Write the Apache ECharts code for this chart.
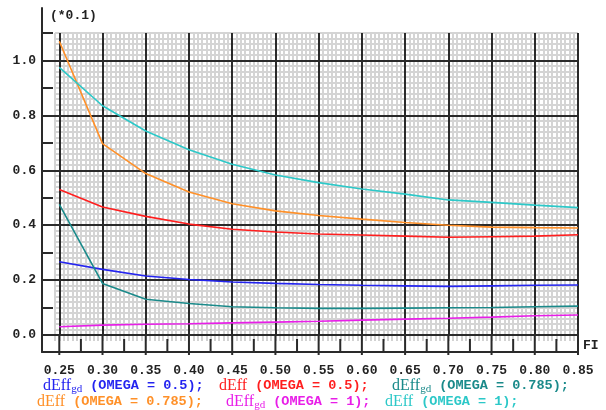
<!DOCTYPE html>
<html><head><meta charset="utf-8">
<script src="https://cdn.jsdelivr.net/npm/echarts@6/dist/echarts.min.js"></script>
<style>html,body{margin:0;padding:0;background:#fff}#c{width:606px;height:410px}</style>
</head><body><div id="c"></div>
<script>
// ---- data ----
const fi = [0.25, 0.30, 0.35, 0.40, 0.45, 0.50, 0.55, 0.60, 0.65, 0.70, 0.75, 0.80, 0.85];
const gdOmega05   = [0.267, 0.239, 0.215, 0.202, 0.193, 0.188, 0.184, 0.181, 0.179, 0.177, 0.179, 0.181, 0.182];
const effOmega05  = [0.530, 0.466, 0.432, 0.404, 0.385, 0.375, 0.368, 0.364, 0.360, 0.356, 0.358, 0.360, 0.365];
const gdOmega0785 = [0.476, 0.188, 0.130, 0.115, 0.103, 0.099, 0.097, 0.097, 0.098, 0.099, 0.100, 0.103, 0.105];
const effOmega0785= [1.070, 0.697, 0.588, 0.521, 0.478, 0.452, 0.435, 0.422, 0.410, 0.400, 0.393, 0.391, 0.390];
const gdOmega1    = [0.030, 0.036, 0.039, 0.041, 0.044, 0.047, 0.050, 0.054, 0.058, 0.061, 0.065, 0.070, 0.073];
const effOmega1   = [0.975, 0.835, 0.743, 0.675, 0.622, 0.583, 0.555, 0.532, 0.513, 0.492, 0.483, 0.473, 0.464];

const seriesLabels = ['dEff_gd (OMEGA = 0.5);', 'dEff (OMEGA = 0.5);', 'dEff_gd (OMEGA = 0.785);',
                      'dEff (OMEGA = 0.785);', 'dEff_gd (OMEGA = 1);', 'dEff (OMEGA = 1);'];
const seriesValues = [gdOmega05, effOmega05, gdOmega0785, effOmega0785, gdOmega1, effOmega1];
const seriesColors = ['#2424f0', '#ff1e1e', '#1a8a8a', '#ff9028', '#e81ee8', '#2cc8c8'];

const xTickLabels = [0.25, 0.30, 0.35, 0.40, 0.45, 0.50, 0.55, 0.60, 0.65, 0.70, 0.75, 0.80, 0.85];
const xMidTicks = [0.275, 0.325, 0.375, 0.425, 0.475, 0.525, 0.575, 0.625, 0.675, 0.725, 0.775, 0.825];
const yTickLabels = [0.0, 0.2, 0.4, 0.6, 0.8, 1.0];
const yUnitNote = '(*0.1)';
const xName = 'FI';

// ---- styles ----
const DARK = '#2a2a2a';
const MINOR = '#d4d4d4';
const MONO = 'Liberation Mono';
const SERIF = 'Liberation Serif';
const near = (arr, v) => arr.some(t => Math.abs(t - v) < 1e-9);

const majorXColors = [];
for (let i = 0; i < 10; i++) majorXColors.push(i === 4 ? DARK : 'rgba(0,0,0,0)');

const rich = {};
seriesColors.forEach((c, i) => {
  rich['m' + i] = {fontFamily: SERIF, fontSize: 16, color: c};
  rich['s' + i] = {fontFamily: SERIF, fontSize: 11, color: c, padding: [6, 0, 0, 0]};
  rich['t' + i] = {fontFamily: MONO, fontWeight: 'bold', fontSize: 13.5, color: c};
});
function legendFmt(name) {
  const i = seriesLabels.indexOf(name);
  const m = name.match(/^dEff(_gd)?\s*(.*)$/);
  return '{m' + i + '|dEff}' + (m[1] ? '{s' + i + '|gd}' : '') + '{t' + i + '| ' + m[2] + '}';
}
const legendPos = [[38, 378], [214, 378], [387, 378], [32, 394], [221, 394], [380, 394]];
const legends = seriesLabels.map((n, i) => ({
  data: [n], left: legendPos[i][0], top: legendPos[i][1], padding: 0,
  itemWidth: 0, itemHeight: 0, itemGap: 0, icon: 'rect', selectedMode: false,
  textStyle: {rich: rich}, formatter: legendFmt
}));

const series = seriesLabels.map((n, i) => ({
  name: n, type: 'line', xAxisIndex: 0, yAxisIndex: 0, showSymbol: false, symbol: 'none',
  data: fi.map((x, k) => [x, seriesValues[i][k]]),
  lineStyle: {color: seriesColors[i], width: 1.6}, itemStyle: {color: seriesColors[i]},
  z: 5, animation: false
}));
series.push({
  type: 'custom', xAxisIndex: 0, yAxisIndex: 0, z: 3, silent: true, animation: false,
  encode: {x: 0, y: 1},
  data: xTickLabels.map(v => [v, 0, 0]).concat(xMidTicks.map(v => [v, 0, 1])),
  renderItem: function (params, api) {
    const p = api.coord([api.value(0), 0]);
    const major = api.value(2) === 0;
    return {type: 'line', shape: {x1: p[0], y1: p[1] + (major ? 0 : 4), x2: p[0], y2: p[1] + (major ? 20 : 17)},
            style: {stroke: DARK, lineWidth: 2}};
  }
});

const option = {
  backgroundColor: '#fff',
  animation: false,
  title: {text: yUnitNote, left: 50, top: 9, padding: 0,
          textStyle: {fontFamily: MONO, fontWeight: 'bold', fontSize: 13, color: '#222'}},
  legend: legends,
  grid: [
    {left: 42, right: 28, top: 33, bottom: 75, outerBoundsMode: 'none', containLabel: false},
    {left: 55, right: 28, top: 33, bottom: 75, outerBoundsMode: 'none', containLabel: false},
    {left: 42, right: 28, top: 8, bottom: 58, outerBoundsMode: 'none', containLabel: false}
  ],
  xAxis: [
    {gridIndex: 0, type: 'value', min: 0.23, max: 0.85, interval: 0.005, position: 'bottom', z: 1,
     axisLine: {show: true, onZero: false, lineStyle: {color: DARK, width: 2}},
     axisTick: {show: false}, axisLabel: {show: false},
     splitLine: {show: true, lineStyle: {color: majorXColors, width: 2}}},
    {gridIndex: 1, type: 'value', min: 0.245, max: 0.85, interval: 0.005, position: 'bottom', z: 0,
     axisLine: {show: false, onZero: false},
     axisTick: {show: true, length: 6, lineStyle: {color: '#c4c4c4', width: 1.5}},
     axisLabel: {show: false},
     splitLine: {show: true, lineStyle: {color: MINOR, width: 2}}},
    {gridIndex: 0, type: 'value', min: 0.23, max: 0.85, interval: 0.005, position: 'bottom', offset: 17, z: 2,
     axisLine: {show: true, onZero: false, lineStyle: {color: DARK, width: 2}},
     axisTick: {show: false}, splitLine: {show: false},
     axisLabel: {show: true, margin: 12, fontFamily: MONO, fontWeight: 'bold', fontSize: 13, color: '#222',
                 showMinLabel: true, showMaxLabel: true,
                 formatter: v => near(xTickLabels, v) ? v.toFixed(2) : ''},
     name: xName, nameLocation: 'end', nameGap: 5,
     nameTextStyle: {fontFamily: MONO, fontWeight: 'bold', fontSize: 13, color: '#222', align: 'left', verticalAlign: 'bottom'}},
    {gridIndex: 2, type: 'value', min: 0, max: 1, show: false}
  ],
  yAxis: [
    {gridIndex: 0, type: 'value', min: 0, max: 1.1, interval: 0.1, z: 1,
     axisLine: {show: false, onZero: false},
     axisTick: {show: true, inside: true, length: 11, lineStyle: {color: DARK, width: 2}},
     axisLabel: {show: true, margin: 6, fontFamily: MONO, fontWeight: 'bold', fontSize: 13, color: '#222',
                 showMinLabel: true, showMaxLabel: true,
                 formatter: v => near(yTickLabels, v) ? v.toFixed(1) : ''},
     splitLine: {show: true, lineStyle: {color: [DARK, 'rgba(0,0,0,0)'], width: 2}}},
    {gridIndex: 1, type: 'value', min: 0, max: 1.1, interval: 0.02, z: 0,
     axisLine: {show: false, onZero: false}, axisTick: {show: false}, axisLabel: {show: false},
     splitLine: {show: true, lineStyle: {color: MINOR, width: 2}}},
    {gridIndex: 2, type: 'value', min: 0, max: 1, z: 2,
     axisLine: {show: true, onZero: false, lineStyle: {color: DARK, width: 2}},
     axisTick: {show: false}, axisLabel: {show: false}, splitLine: {show: false}}
  ],
  series: series
};
const chart = echarts.init(document.getElementById('c'), null, {renderer: 'canvas'});
chart.setOption(option);
</script></body></html>
